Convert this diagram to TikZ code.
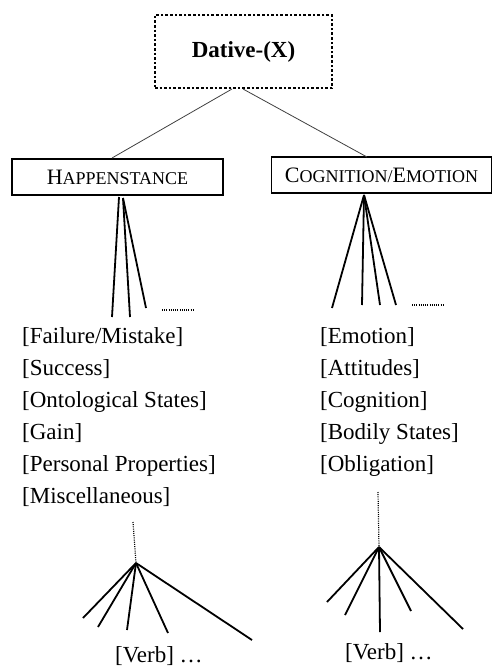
\documentclass[tikz,border=0pt]{standalone}
\usepackage{fontspec}
\setmainfont{Liberation Serif}
\newcommand\mysc[2]{{\fontsize{22}{26}\selectfont #1}{\fontsize{18}{22}\selectfont #2}}
\begin{document}
\begin{tikzpicture}[x=1pt,y=-1pt,
  lbl/.style={font=\fontsize{23}{27}\selectfont, inner sep=0pt, anchor=base west},
  catbox/.style={draw, line width=1.4pt, inner sep=0pt, minimum height=36pt},
  branch/.style={line width=1.8pt},
  thinline/.style={line width=0.8pt, draw=black!75},
  dotline/.style={line width=1.2pt, dash pattern=on 1pt off 1.2pt}]
\useasboundingbox (0,0) rectangle (493,671);

% top node
\node[draw, line width=2.8pt, dash pattern=on 2.6pt off 2pt, minimum width=177pt, minimum height=73pt,
      inner sep=0pt, font=\bfseries\fontsize{23}{27}\selectfont] (dative) at (243.5,51.5) {Dative-(X)};

% category boxes
\node[catbox, minimum width=211pt] (hap) at (117.5,177) {\mysc{H}{APPENSTANCE}};
\node[catbox, minimum width=220pt] (cog) at (381.5,175) {\mysc{C}{OGNITION/}\mysc{E}{MOTION}};

\coordinate (dl) at (232,89);
\coordinate (dr) at (243,89);
\coordinate (hl) at (112,158);
\coordinate (cr) at (367,157);
\draw[thinline] (dl) -- (hl);
\draw[thinline] (dr) -- (cr);

% happenstance fan
\coordinate (ha1) at (119,197);
\coordinate (ha2) at (123,198);
\coordinate (h1) at (112,317);
\coordinate (h2) at (130,317);
\coordinate (h3) at (146,308);
\draw[branch] (ha1) -- (h1);
\draw[branch] (ha2) -- (h2);
\draw[branch] (ha2) -- (h3);
\coordinate (hd1) at (162,310);
\coordinate (hd2) at (195,310);
\draw[dotline] (hd1) -- (hd2);

% cognition fan
\coordinate (ca) at (364,195);
\coordinate (c1) at (332,308);
\coordinate (c2) at (362,305);
\coordinate (c3) at (380,305);
\coordinate (c4) at (396,305);
\draw[branch] (ca) -- (c1);
\draw[branch] (ca) -- (c2);
\draw[branch] (ca) -- (c3);
\draw[branch] (ca) -- (c4);
\coordinate (cd1) at (412,305);
\coordinate (cd2) at (445,305);
\draw[dotline] (cd1) -- (cd2);

% lists
\node[lbl] (l1) at (22,343) {[Failure/Mistake]};
\node[lbl] (l2) at (22,375) {[Success]};
\node[lbl] (l3) at (22,407) {[Ontological States]};
\node[lbl] (l4) at (22,439) {[Gain]};
\node[lbl] (l5) at (22,471) {[Personal Properties]};
\node[lbl] (l6) at (22,503) {[Miscellaneous]};

\node[lbl] (r1) at (320,343) {[Emotion]};
\node[lbl] (r2) at (320,375) {[Attitudes]};
\node[lbl] (r3) at (320,407) {[Cognition]};
\node[lbl] (r4) at (320,439) {[Bodily States]};
\node[lbl] (r5) at (320,471) {[Obligation]};

% bottom left tree
\coordinate (bltop) at (133,522);
\coordinate (bla) at (136,563);
\draw[dotline] (bltop) -- (bla);
\coordinate (bl1) at (83,618);
\coordinate (bl2) at (98,627);
\coordinate (bl3) at (127,630);
\coordinate (bl4) at (168,633);
\coordinate (bl5) at (252,640);
\foreach \p in {bl1,bl2,bl3,bl4,bl5} \draw[branch] (bla) -- (\p);
\node[lbl] (vl) at (115,662) {[Verb] \dots};

% bottom right tree
\coordinate (brtop) at (378,492);
\coordinate (bra) at (379,547);
\draw[dotline] (brtop) -- (bra);
\coordinate (br1) at (327,602);
\coordinate (br2) at (345,615);
\coordinate (br3) at (380,632);
\coordinate (br4) at (411,611);
\coordinate (br5) at (463,629);
\foreach \p in {br1,br2,br3,br4,br5} \draw[branch] (bra) -- (\p);
\node[lbl] (vr) at (345,659) {[Verb] \dots};
\end{tikzpicture}
\end{document}
